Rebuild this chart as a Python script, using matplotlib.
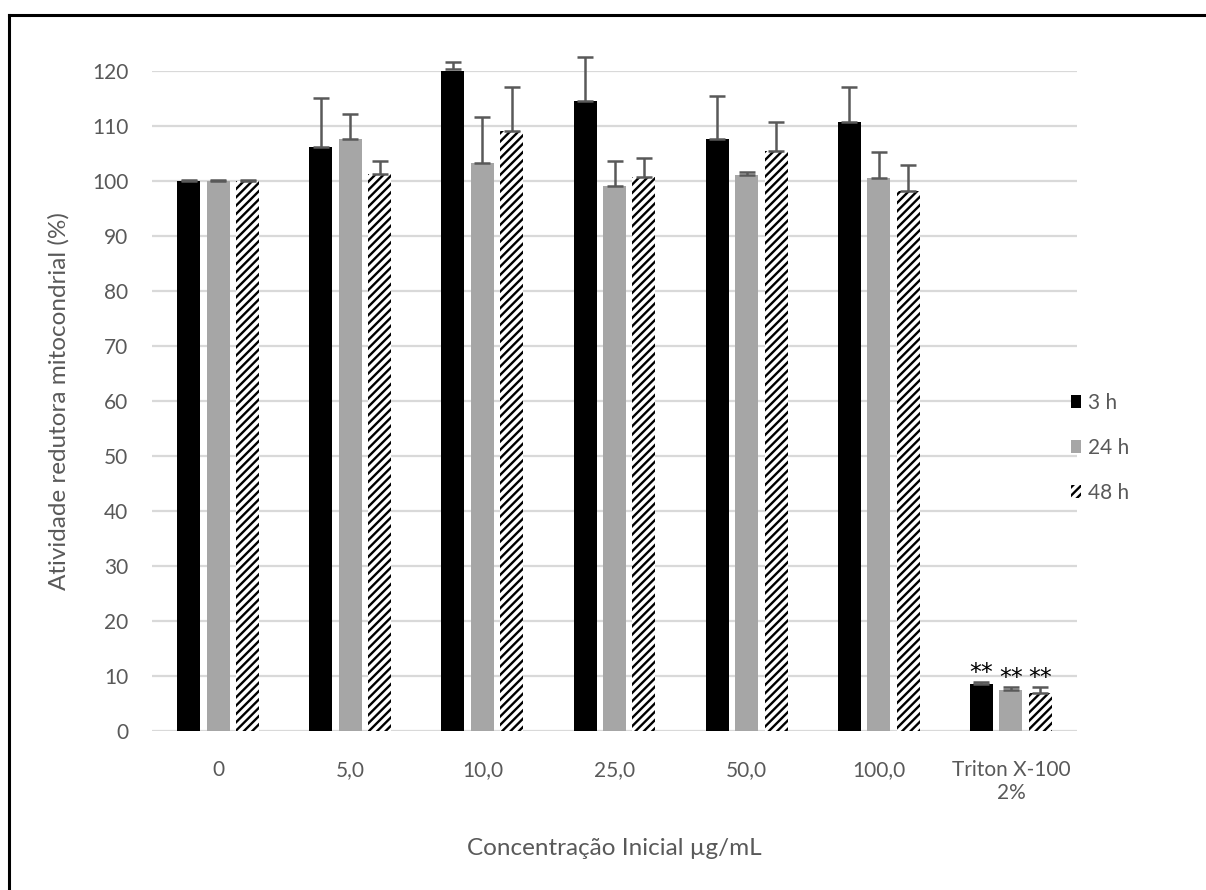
import numpy as np
import matplotlib
matplotlib.use("Agg")
import matplotlib.pyplot as plt
from matplotlib.patches import Patch
from matplotlib.lines import Line2D

plt.rcParams['font.family'] = ['Lato', 'DejaVu Sans']
plt.rcParams['hatch.linewidth'] = 1.7

categories = ["0", "5,0", "10,0", "25,0", "50,0", "100,0", "Triton X-100\n2%"]
series = ["3 h", "24 h", "48 h"]
vals_3h = [100.0, 106.1, 120.3, 114.5, 107.6, 110.8, 8.6]
err_3h = [0.1, 8.9, 1.3, 8.0, 7.9, 6.3, 0.4]
vals_24h = [100.0, 107.6, 103.3, 99.0, 101.1, 100.6, 7.4]
err_24h = [0.1, 4.5, 8.3, 4.6, 0.5, 4.7, 0.6]
vals_48h = [100.0, 101.3, 109.0, 100.8, 105.5, 98.1, 7.0]
err_48h = [0.1, 2.4, 8.0, 3.3, 5.2, 4.8, 1.0]
stars = ["", "", "", "", "", "", "**"]

W, H = 1206, 890
fig = plt.figure(figsize=(W / 100, H / 100), dpi=100)
ax = fig.add_axes([152 / W, (H - 731) / H, 925 / W, 660 / H])

x = np.arange(len(categories))
bw = 0.174
step = 0.223
grey_txt = "#595959"
fs = 15
fs_title = 17.5

data = [(vals_3h, err_3h), (vals_24h, err_24h), (vals_48h, err_48h)]
styles = [dict(color="black"),
          dict(color="#a6a6a6"),
          dict(facecolor="white", edgecolor="black", hatch="////", linewidth=0)]

for i, ((v, e), st) in enumerate(zip(data, styles)):
    xs = x + (i - 1) * step
    ax.bar(xs, v, bw, zorder=2, **st)
    ax.errorbar(xs, v, yerr=[np.zeros(len(e)), e], fmt="none", ecolor=grey_txt,
                elinewidth=1.8, capsize=5.5, capthick=1.8, zorder=3, clip_on=False)
    for xi, vi, ei, s in zip(xs, v, e, stars):
        if s:
            ax.text(xi, vi + ei + 0.3, s, ha="center", va="baseline",
                    fontsize=17, color="black", family="DejaVu Sans")

ax.set_xlim(-0.5, len(categories) - 0.5)
ax.set_ylim(0, 120)
ax.set_yticks(np.arange(0, 121, 10))
ax.yaxis.grid(True, color="#d9d9d9", linewidth=1.6, zorder=0)
ax.set_axisbelow(True)
for sp in ax.spines.values():
    sp.set_visible(False)
ax.tick_params(axis="both", length=0, labelsize=fs, labelcolor=grey_txt)
ax.tick_params(axis="y", pad=17)
ax.tick_params(axis="x", pad=21)
ax.set_xticks(x)
ax.set_xticklabels(categories, linespacing=1.2)

ax.set_ylabel("Atividade redutora mitocondrial (%)", fontsize=fs_title, color=grey_txt)
ax.set_xlabel("Concentração Inicial µg/mL", fontsize=fs_title, color=grey_txt)
ax.yaxis.set_label_coords(-0.089, 0.5)
ax.xaxis.set_label_coords(0.5, -0.162)

handles = [Patch(facecolor="black"), Patch(facecolor="#a6a6a6"),
           Patch(facecolor="white", edgecolor="black", hatch="////", linewidth=0)]
leg = fig.legend(handles, series, loc="center left",
                 bbox_to_anchor=(1052 / W, 1 - 448 / H), frameon=False,
                 fontsize=fs, labelcolor=grey_txt, handlelength=0.5,
                 handleheight=0.6, handletextpad=0.35, labelspacing=1.2)

# frame lines of the pasted image
fig.add_artist(Line2D([9 / W, 9 / W], [0, 1 - 15 / H], color="black", linewidth=2.2))
fig.add_artist(Line2D([9 / W, 1], [1 - 15 / H, 1 - 15 / H], color="black", linewidth=2.2))

fig.savefig("out.png", dpi=100)
